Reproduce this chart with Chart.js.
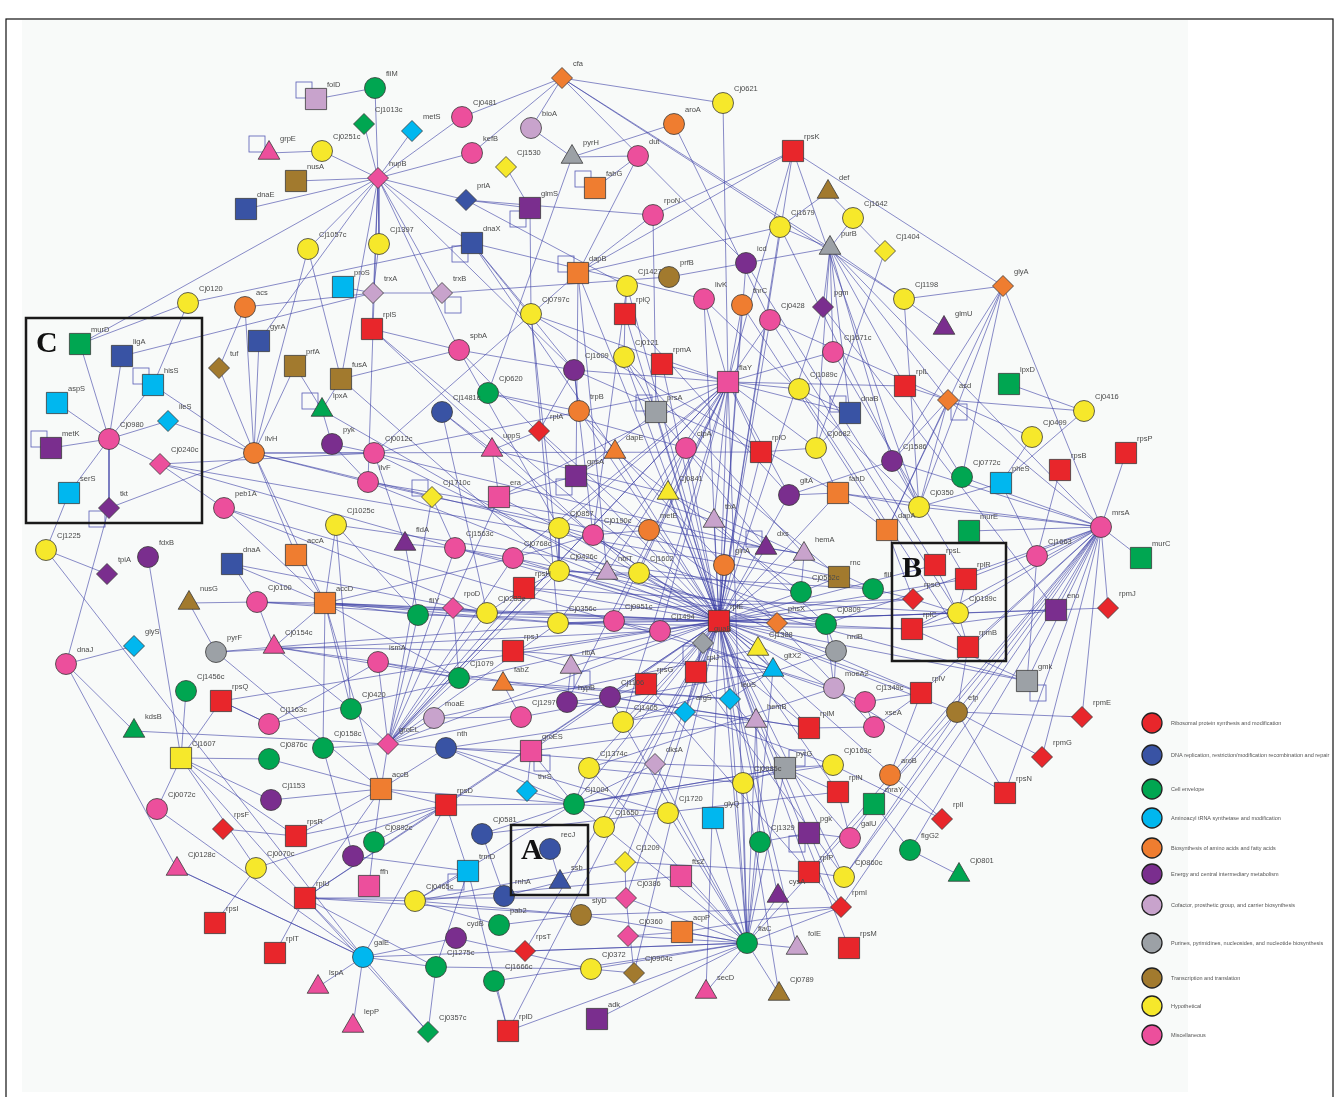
<!DOCTYPE html>
<html>
<head>
<meta charset="utf-8">
<script src="https://cdn.jsdelivr.net/npm/chart.js@4.4.1/dist/chart.umd.min.js"></script>
<style>
  html, body { margin: 0; padding: 0; background: #fff; }
  canvas { display: block; }
</style>
</head>
<body>
<canvas id="net" width="1336" height="1097"></canvas>
<script>
/* =====================
   Interaction network
   ===================== */

// Nodes per functional class: [name, x, y, kind]  (kind: c circle, s square, t triangle, d diamond)
const ribosomal = [
  ['rpsK',793,151,'s'], ['rplS',372,329,'s'], ['rplA',539,431,'d'], ['rplQ',625,314,'s'],
  ['rpmA',662,364,'s'], ['rplL',905,386,'s'], ['rplO',761,452,'s'], ['rpsB',1060,470,'s'],
  ['rpsP',1126,453,'s'], ['rpsL',935,565,'s'], ['rplR',966,579,'s'], ['rpsO',913,599,'d'],
  ['rplC',912,629,'s'], ['rpmB',968,647,'s'], ['rpmJ',1108,608,'d'], ['rplV',921,693,'s'],
  ['rpmE',1082,717,'d'], ['rpmG',1042,757,'d'], ['rpsN',1005,793,'s'], ['rplI',942,819,'d'],
  ['rplE',719,621,'s'], ['rpsH',524,588,'s'], ['rpsJ',513,651,'s'], ['rpsG',646,684,'s'],
  ['rplJ',696,672,'s'], ['rplM',809,728,'s'], ['rplN',838,792,'s'], ['rplP',809,872,'s'],
  ['rpmI',841,907,'d'], ['rpsM',849,948,'s'], ['rpsQ',221,701,'s'], ['rpsD',446,805,'s'],
  ['rpsF',223,829,'d'], ['rpsR',296,836,'s'], ['rplU',305,898,'s'], ['rpsI',215,923,'s'],
  ['rplT',275,953,'s'], ['rpsT',525,951,'d'], ['rplD',508,1031,'s']
];
const dnaRepair = [
  ['dnaE',246,209,'s'], ['priA',466,200,'d'], ['dnaX',472,243,'s'], ['ligA',122,356,'s'],
  ['gyrA',259,341,'s'], ['Cj1481c',442,412,'c'], ['dnaB',850,413,'s'], ['dnaA',232,564,'s'],
  ['nth',446,748,'c'], ['Cj0581',482,834,'c'], ['recJ',550,849,'c'], ['ssb',560,882,'t'],
  ['rnhA',504,896,'c']
];
const envelope = [
  ['fliM',375,88,'c'], ['Cj1013c',364,124,'d'], ['murD',80,344,'s'], ['lpxA',322,410,'t'],
  ['Cj0620',488,393,'c'], ['lpxD',1009,384,'s'], ['Cj0772c',962,477,'c'], ['murE',969,531,'s'],
  ['murC',1141,558,'s'], ['fliY',418,615,'c'], ['Cj0552c',801,592,'c'], ['fliI',873,589,'c'],
  ['Cj0809',826,624,'c'], ['Cj1079',459,678,'c'], ['Cj1456c',186,691,'c'], ['Cj0420',351,709,'c'],
  ['kdsB',134,731,'t'], ['Cj0876c',269,759,'c'], ['Cj0158c',323,748,'c'], ['Cj0892c',374,842,'c'],
  ['Cj1004',574,804,'c'], ['Cj1329',760,842,'c'], ['mraY',874,804,'s'], ['flgG2',910,850,'c'],
  ['Cj0801',959,875,'t'], ['pab2',499,925,'c'], ['Cj1275c',436,967,'c'], ['Cj1666c',494,981,'c'],
  ['Cj0357c',428,1032,'d'], ['flaC',747,943,'c']
];
const trnaSynth = [
  ['metS',412,131,'d'], ['proS',343,287,'s'], ['hisS',153,385,'s'], ['aspS',57,403,'s'],
  ['ileS',168,421,'d'], ['serS',69,493,'s'], ['glyS',134,646,'d'], ['pheS',1001,483,'s'],
  ['gltX2',773,670,'t'], ['argS',685,712,'d'], ['leuS',730,699,'d'], ['thrS',527,791,'d'],
  ['glyQ',713,818,'s'], ['trmD',468,871,'s'], ['galE',363,957,'c']
];
const aminoFatty = [
  ['cfa',562,78,'d'], ['aroA',674,124,'c'], ['fabG',595,188,'s'], ['dapB',578,273,'s'],
  ['thrC',742,305,'c'], ['glyA',1003,286,'d'], ['acs',245,307,'c'], ['asd',948,400,'d'],
  ['trpB',579,411,'c'], ['ilvH',254,453,'c'], ['dapE',615,452,'t'], ['fabD',838,493,'s'],
  ['dapA',887,530,'s'], ['metE',649,530,'c'], ['glnA',724,565,'c'], ['accA',296,555,'s'],
  ['accD',325,603,'s'], ['phsX',777,623,'d'], ['fabZ',503,684,'t'], ['aroB',890,775,'c'],
  ['accB',381,789,'s'], ['acpP',682,932,'s']
];
const energy = [
  ['glmS',530,208,'s'], ['icd',746,263,'c'], ['pgm',823,307,'d'], ['glmU',944,328,'t'],
  ['Cj1609',574,370,'c'], ['pyk',332,444,'c'], ['metK',51,448,'s'], ['gpsA',576,476,'s'],
  ['Cj1586',892,461,'c'], ['gltA',789,495,'c'], ['tkt',109,508,'d'], ['fldA',405,544,'t'],
  ['dxs',766,548,'t'], ['fdxB',148,557,'c'], ['tpiA',107,574,'d'], ['eno',1056,610,'s'],
  ['Cj1106',610,697,'c'], ['hypB',567,702,'c'], ['Cj1153',271,800,'c'], ['pgk',809,833,'s'],
  ['cysA',778,896,'t'], ['cydB',456,938,'c'], ['_e1',353,856,'c'], ['adk',597,1019,'s']
];
const cofactor = [
  ['folD',316,99,'s'], ['bioA',531,128,'c'], ['trxA',373,293,'d'], ['trxB',442,293,'d'],
  ['tbA',714,521,'t'], ['hemA',804,554,'t'], ['nblT',607,573,'t'], ['ribA',571,667,'t'],
  ['moaE',434,718,'c'], ['moeA2',834,688,'c'], ['hemB',756,721,'t'], ['dksA',655,764,'d'],
  ['folE',797,948,'t']
];
const nucleotide = [
  ['pyrH',572,157,'t'], ['purB',830,248,'t'], ['prsA',656,412,'s'], ['pyrF',216,652,'c'],
  ['guaB',703,643,'d'], ['nrdB',836,651,'c'], ['gmk',1027,681,'s'], ['pyrG',785,768,'s']
];
const transcription = [
  ['nusA',296,181,'s'], ['def',828,192,'t'], ['prfB',669,277,'c'], ['tuf',219,368,'d'],
  ['prfA',295,366,'s'], ['fusA',341,379,'s'], ['nusG',189,603,'t'], ['rnc',839,577,'s'],
  ['efp',957,712,'c'], ['slyD',581,915,'c'], ['Cj0904c',634,973,'d'], ['Cj0789',779,994,'t']
];
const hypothetical = [
  ['Cj0621',723,103,'c'], ['Cj0251c',322,151,'c'], ['Cj1530',506,167,'d'], ['Cj1642',853,218,'c'],
  ['Cj1679',780,227,'c'], ['Cj1057c',308,249,'c'], ['Cj1397',379,244,'c'], ['Cj1404',885,251,'d'],
  ['Cj1427',627,286,'c'], ['Cj1198',904,299,'c'], ['Cj0120',188,303,'c'], ['Cj0797c',531,314,'c'],
  ['Cj0121',624,357,'c'], ['Cj1089c',799,389,'c'], ['Cj0416',1084,411,'c'], ['Cj0499',1032,437,'c'],
  ['Cj0682',816,448,'c'], ['Cj0841',668,493,'t'], ['Cj1710c',432,497,'d'], ['Cj0350',919,507,'c'],
  ['Cj1025c',336,525,'c'], ['Cj0857',559,528,'c'], ['Cj1225',46,550,'c'], ['Cj0426c',559,571,'c'],
  ['Cj1602',639,573,'c'], ['Cj0233c',487,613,'c'], ['Cj0356c',558,623,'c'], ['Cj0189c',958,613,'c'],
  ['Cj1388',758,649,'t'], ['Cj1405',623,722,'c'], ['Cj1607',181,758,'s'], ['Cj1374c',589,768,'c'],
  ['Cj0163c',833,765,'c'], ['Cj0985c',743,783,'c'], ['Cj1720',668,813,'c'], ['Cj1650',604,827,'c'],
  ['Cj1209',625,862,'d'], ['Cj0860c',844,877,'c'], ['Cj0070c',256,868,'c'], ['Cj0465c',415,901,'c'],
  ['Cj0372',591,969,'c']
];
const miscellaneous = [
  ['Cj0481',462,117,'c'], ['kefB',472,153,'c'], ['grpE',269,153,'t'], ['hupB',378,178,'d'],
  ['dut',638,156,'c'], ['rpoN',653,215,'c'], ['livK',704,299,'c'], ['Cj0428',770,320,'c'],
  ['spbA',459,350,'c'], ['Cj1671c',833,352,'c'], ['flaY',728,382,'s'], ['Cj0980',109,439,'c'],
  ['clpA',686,448,'c'], ['uppS',492,450,'t'], ['Cj0012c',374,453,'c'], ['Cj0240c',160,464,'d'],
  ['ilvF',368,482,'c'], ['era',499,497,'s'], ['peb1A',224,508,'c'], ['mrsA',1101,527,'c'],
  ['Cj0190c',593,535,'c'], ['Cj1563c',455,548,'c'], ['Cj0768c',513,558,'c'], ['Cj1663',1037,556,'c'],
  ['Cj0100',257,602,'c'], ['rpoD',453,608,'d'], ['Cj0951c',614,621,'c'], ['Cj1494',660,631,'c'],
  ['Cj0154c',274,647,'t'], ['ismA',378,662,'c'], ['dnaJ',66,664,'c'], ['Cj1349c',865,702,'c'],
  ['Cj1297',521,717,'c'], ['Cj1163c',269,724,'c'], ['xseA',874,727,'c'], ['groEL',388,744,'d'],
  ['groES',531,751,'s'], ['Cj0072c',157,809,'c'], ['galU',850,838,'c'], ['Cj0128c',177,869,'t'],
  ['ffh',369,886,'s'], ['ftsZ',681,876,'s'], ['Cj0386',626,898,'d'], ['Cj0360',628,936,'d'],
  ['lspA',318,987,'t'], ['secD',706,992,'t'], ['lepP',353,1026,'t']
];

const classLists = [ribosomal, dnaRepair, envelope, trnaSynth, aminoFatty, energy,
  cofactor, nucleotide, transcription, hypothetical, miscellaneous];

const classNames = [
  'Ribosomal protein synthesis and modification',
  'DNA replication, restriction/modification recombination and repair',
  'Cell envelope',
  'Aminoacyl tRNA synthetase and modification',
  'Biosynthesis of amino acids and fatty acids',
  'Energy and central intermediary metabolism',
  'Cofactor, prosthetic group, and carrier biosynthesis',
  'Purines, pyrimidines, nucleosides, and nucleotide biosynthesis',
  'Transcription and translation',
  'Hypothetical',
  'Miscellaneous'
];

const classColors = ['#e8262b', '#3953a4', '#00a651', '#00b7ef', '#ef7d30', '#7a2e8e',
  '#c8a3cc', '#9ca1a6', '#a27a2e', '#f6e82b', '#ec4f9c'];

// Self-interactions, drawn as a small loop beside the node
const selfLoops = [['folD','ul'], ['grpE','ul'], ['dnaX','dl'], ['trxB','dr'], ['hisS','ul'],
  ['metK','ul'], ['tkt','dl'], ['lpxA','ul'], ['Cj1710c','ul'], ['fabG','ul'], ['glmS','dl'],
  ['dapB','ul'], ['prsA','ul'], ['gpsA','dl'], ['dnaB','ul'], ['asd','dr'], ['dxs','ul'],
  ['gmk','dr'], ['groES','dr'], ['trmD','dl'], ['pgk','dl'], ['guaB','dl'], ['ribA','dr'],
  ['pyrG','ur']];

const edges = [
  // hupB
  'hupB fliM','hupB Cj1013c','hupB metS','hupB Cj0481','hupB kefB','hupB Cj0251c','hupB nusA',
  'hupB dnaE','hupB murD','hupB priA','hupB gyrA','hupB dnaX','hupB trxB','hupB spbA',
  'hupB Cj1609','hupB fusA','hupB ilvF','hupB Cj1397','hupB Cj1057c','hupB rplS',
  'folD fliM','grpE Cj0251c',
  // cfa / top
  'cfa Cj0481','cfa kefB','cfa bioA','cfa Cj0621','cfa purB','cfa Cj1198','cfa icd',
  'bioA pyrH','pyrH dut','pyrH aroA','pyrH Cj0620','dut dapB','dut fabG','Cj1530 glmS',
  'priA rpoN','priA Cj1427','glmS Cj0797c','priA glmS','dnaX Cj1609','dnaX Cj0797c','dnaX livK',
  'dnaX dapE','Cj0621 flaY','aroA Cj0428','rpsK rpoN','rpsK dapB','rpsK rplE','rpsK glyA',
  'rpsK Cj0350','rpsK flaY','rpoN prsA','rpoN dapB','dapB Cj1679','dapB gpsA','dapB Cj0012c',
  'prfB icd','prfB trxB','icd purB','Cj1679 purB','Cj1679 Cj0350','def Cj1642','def Cj1679',
  'Cj1404 Cj1642','Cj1404 Cj0682','Cj1642 purB',
  // purB / glyA / asd
  'purB rplL','purB pgm','purB Cj1671c','purB asd','purB Cj1586','purB dnaB','purB Cj0682',
  'purB Cj1198','purB mrsA','Cj1198 glyA','Cj1198 glmU','Cj1198 Cj0350','glyA Cj0772c',
  'glyA Cj0350','glyA mrsA','glyA dapA','glyA Cj1586','asd Cj0416','asd Cj0499','asd rplL',
  'asd Cj0428','asd dapA','asd mrsA','asd Cj0350','asd Cj1586','lpxD Cj0416','Cj0416 pheS',
  'Cj0499 pheS','rpsB Cj1663','rpsP mrsA','pheS Cj1663','pheS Cj0350','Cj0772c rplL',
  // mrsA
  'mrsA murC','mrsA murE','mrsA Cj0350','mrsA eno','mrsA rpmJ','mrsA rpmE','mrsA rpmG',
  'mrsA rpsN','mrsA gmk','mrsA rpmB','mrsA rplC','mrsA rplR','mrsA efp','mrsA rpmI',
  'mrsA rplP','mrsA Cj1663','mrsA Cj0189c','mrsA Cj0809','mrsA mraY','mrsA Cj0772c',
  'mrsA Cj1586','mrsA fabD','mrsA Cj0860c','mrsA flgG2','mrsA rplV',
  'Cj0189c rpsL','Cj0189c rplR','Cj0189c rpsO','Cj0189c rplC','Cj0189c rpmB',
  'rpsO fliI','rpsO dapA','rplC eno','efp rpmE','efp rpmG','efp rpsN','efp rpmB','efp flaC',
  'efp Cj0860c','gmk Cj1663','gmk rplC','rplV Cj1349c','rplV aroB','rplV rplE','rplV xseA',
  'mraY flgG2','mraY galU','flgG2 Cj0801','Cj0163c rplI',
  // rplE hub
  'rplE rplO','rplE Cj1494','rplE Cj0951c','rplE Cj0356c','rplE rpsG','rplE rplJ','rplE guaB',
  'rplE Cj1388','rplE gltX2','rplE phsX','rplE Cj0809','rplE rplC','rplE rpsL','rplE flaC',
  'rplE rpmA','rplE rplQ','rplE flaY','rplE hemB','rplE rplM','rplE rplP','rplE rplD',
  'rplE rpsD','rplE rpsJ','rplE rpsH','rplE Cj0857','rplE Cj0190c','rplE leuS','rplE argS',
  'rplE glnA','rplE dxs','rplE rpmI','rplE rplN','rplE Cj1602','rplE metE','rplE dapE',
  'rplE clpA','rplE rplS','rplE Cj1405','rplE accD','rplE groEL','rplE Cj0552c','rplE nrdB',
  'rplE rpsN','rplE hemA','rplE rplR','rplE Cj0841','rplE tbA','rplE rplU',
  'rplE Cj0233c','rplE Cj1563c','rplE fliY','rplE Cj0768c','rplE Cj0426c','rplE livK',
  'rplE thrC','rplE Cj0428','rplE icd','rplE Cj1679','rplE pgm','rplE gltA','rplE fabD',
  'rplE Cj0189c','rplE rpsO','rplE eno','rplE rpmJ','rplE gmk','rplE efp','rplE rplI',
  'rplE Cj0860c','rplE rpsM','rplE folE','rplE Cj0789','rplE cysA','rplE secD','rplE Cj0386',
  'rplE Cj1209','rplE Cj1650','rplE Cj1374c','rplE groES','rplE rpsT','rplE Cj0904c',
  'rplE Cj0012c','rplE ilvF','rplE Cj0100','rplE rpsQ','rplE Cj1163c','rplE ribA',
  'rplE Cj0121','rplE prsA','rplE trpB','rplE Cj1427','rplE dapB','rplE spbA',
  // flaY hub
  'flaY rpmA','flaY livK','flaY thrC','flaY Cj0428','flaY Cj1089c','flaY Cj1671c','flaY rplL',
  'flaY Cj0797c','flaY Cj0356c','flaY Cj0857','flaY Cj0012c','flaY flaC','flaY Cj1609',
  'flaY tbA','flaY rplO','flaY era','flaY groEL','flaY Cj0768c','flaY Cj1602','flaY nblT',
  'flaY Cj0951c','flaY hypB','flaY Cj1405','flaY dnaB','flaY Cj0682','flaY gltA','flaY Cj1494',
  'Cj1089c dnaB','dnaB Cj0682','Cj1586 Cj0350','Cj1586 gltA','Cj0682 rplO','Cj0682 fabD',
  'fabD gltA','fabD dapA','fabD Cj0350','hemA dxs','hemA Cj0552c','dxs tbA','rnc Cj0552c',
  'Cj0809 nrdB','Cj0809 moeA2','Cj1388 gltX2','guaB rplJ','rplJ argS','rpsG Cj1106',
  'Cj1349c xseA','rplM xseA','hemB Cj1329','gltX2 leuS',
  // long crossings through the centre
  'ilvH Cj0190c','ilvH rplO','Cj0240c fliI','Cj1025c Cj0552c','Cj0012c dxs','ilvF hemA',
  'Cj1710c rnc','Cj1563c phsX','Cj0768c Cj0809','peb1A Cj0951c','Cj0100 Cj0356c',
  'accD Cj1494','dnaA Cj0233c','Cj0154c Cj0951c','pyrF Cj1494','ismA rplM','Cj1079 leuS',
  'Cj1297 gltX2','moaE Cj1388','nth argS','groES hemB','Cj1374c moeA2','Cj0581 rplN',
  'gpsA tbA','uppS Cj0841','rplA metE','Cj0620 clpA','trpB glnA','Cj1481c Cj1602',
  'prsA dxs','Cj0121 hemA','rplQ gltA','Cj0797c fabD','Cj1609 rplO','spbA Cj0857',
  'rplS Cj0190c','fusA Cj0426c','lpxA nblT','dapE Cj0552c','metE phsX','Cj0857 Cj0809',
  'Cj0426c fliI','Cj0233c rpsO','rpsH Cj0189c','Cj0356c rplC','rpsJ gltX2','fabZ leuS',
  'hypB hemB','Cj1106 rplM','Cj1405 nrdB','livK Cj0350','thrC dapA','Cj0428 Cj0189c',
  'icd rpsL','Cj1671c rplR','pgm eno','Cj1089c rpmB','clpA rnc','Cj0841 fliI',
  'Cj0190c Cj1388','tbA Cj0809','Cj1602 rplV','nblT gmk','glnA xseA','guaB rplM',
  'Cj0951c moeA2','Cj1494 Cj1349c','argS Cj0163c','leuS galU','rpsG rplP','rplJ Cj0860c',
  // pyrG / bottom right
  'pyrG Cj0985c','pyrG Cj1004','pyrG rplN','pyrG Cj0163c','pyrG flaC','rplN galU',
  'pgk Cj1329','pgk galU','rplP Cj0860c','rplP rpmI','rplP Cj1209','rpmI slyD','rpmI acpP',
  'flaC folE','flaC Cj0789','flaC secD','flaC acpP','flaC Cj0360','flaC rpsT','flaC rplD',
  'flaC adk','flaC slyD','flaC Cj1650','flaC Cj1720','flaC glyQ','flaC Cj1329','flaC ftsZ',
  'flaC Cj1666c','flaC Cj0386','flaC galE','flaC rpmI','flaC Cj0985c','flaC cysA',
  'Cj0360 acpP','Cj0386 Cj1209','Cj0386 Cj0904c','slyD Cj0465c','Cj0372 Cj0904c','Cj0372 cydB',
  'flaC hemB','flaC gltX2','flaC leuS','flaC Cj1374c','flaC dksA','flaC Cj1405','flaC Cj0372',
  // Cj1004 / box A
  'Cj1004 Cj1374c','Cj1004 thrS','Cj1004 rpsD','Cj1004 dksA','Cj1004 Cj0581','Cj1004 Cj1650',
  'Cj1004 groES','Cj1004 nth','Cj1004 accB','Cj1004 Cj0465c','Cj1004 rplE','Cj1004 Cj1720',
  'Cj1374c Cj0985c','dksA pyrG','groES thrS','groES nth','recJ ssb','rnhA ssb','Cj0581 rnhA',
  'trmD rpsD','trmD Cj0465c','trmD Cj1275c','trmD _e1','cydB galE','pab2 slyD','pab2 Cj0465c',
  'Cj1004 Cj0163c','Cj1004 pyrG','Cj0465c Cj1209','Cj0465c ftsZ','nth Cj1720','nth dksA',
  // bottom left
  'rpsD accB','rpsD rplU','rpsD galE','rpsD Cj0892c','galE rplU','galE lspA','galE lepP',
  'galE Cj0357c','galE Cj1275c','galE Cj0128c','galE Cj0072c','Cj0357c Cj1275c','Cj0357c rplU',
  'rplD Cj1666c','rplD trmD','rplU Cj0465c','rplU rplT','rplU Cj1607','rplU Cj1275c',
  'rplU accB','Cj0070c rpsI','Cj0070c rpsD','rpsR rpsF','rpsR Cj1607','rpsR rpsD',
  'Cj0892c ffh','Cj0892c accB','_e1 Cj0158c','rplU Cj0386','rplU slyD','Cj1275c Cj0372',
  'accB Cj0876c','accB Cj1153','accB groEL','accB nth','accB accD','accB rpsR',
  'Cj0876c Cj1607','Cj1153 Cj1607','Cj0072c Cj1607','Cj1607 Cj1456c','Cj1607 Cj0070c',
  'kdsB groEL','dnaJ glyS','dnaJ kdsB','dnaJ tkt','dnaJ Cj0128c','Cj1225 tpiA','Cj1225 galE',
  'fdxB Cj1607','Cj1225 serS','Cj0128c galE','rpsQ Cj1607','rpsQ Cj1163c',
  // groEL / accD
  'groEL Cj0158c','groEL moaE','groEL Cj0420','groEL fliY','groEL ismA','groEL Cj1563c',
  'groEL Cj1079','groEL nth','groEL Cj0356c','groEL Cj0233c','groEL flaY','groEL Cj1297',
  'groEL Cj0768c','groEL rpsH','groEL Cj0426c','groEL era','groEL Cj1710c',
  'Cj0420 Cj0154c','Cj1163c rpsQ','Cj1163c ismA','pyrF nusG','pyrF Cj0154c','pyrF accB',
  'nusG Cj0100','Cj0100 accD','Cj0100 Cj0154c','Cj0100 dnaA',
  'accD accA','accD dnaA','accD Cj1025c','accD Cj0154c','accD peb1A','accD ilvH','accD fliY',
  'accD Cj0158c','accD Cj0420','accD Cj0768c','accA ilvH','peb1A Cj0240c','accD Cj0233c',
  'accD rpoD','accD Cj1079','Cj0154c ismA','Cj0154c Cj1079','Cj0154c rpsJ',
  // box C and left
  'Cj0980 murD','Cj0980 ligA','Cj0980 hisS','Cj0980 aspS','Cj0980 ileS','Cj0980 metK',
  'Cj0980 Cj0240c','Cj0980 serS','Cj0980 tkt','ilvH tkt','ilvH ileS','ilvH Cj0012c',
  'ilvH ilvF','ilvH acs','ilvH gyrA','ilvH tuf','ilvH Cj1057c','Cj0240c Cj1563c',
  'Cj0240c Cj0012c','Cj0120 murD','Cj0120 hisS','Cj0120 dnaX','acs trxA','acs tuf',
  'ligA trxA','Cj1397 trxA','trxA trxB','trxA proS','Cj1057c fusA','prfA ilvH','prfA lpxA',
  'rplS spbA','spbA fusA','spbA Cj1609','lpxA fusA','lpxA pyk','pyk Cj0012c','pyk ilvF',
  'ilvF Cj1710c','Cj1710c Cj1563c','fldA fliY','fldA Cj1563c','fldA Cj0012c',
  'hisS ilvH','peb1A Cj0233c','Cj1025c fliY','Cj1025c Cj0420',
  // middle
  'Cj1481c uppS','Cj1481c Cj0233c','Cj0620 trpB','trpB Cj1609','rplA Cj1609','rplA uppS',
  'gpsA era','gpsA dapE','gpsA prsA','prsA Cj0121','Cj0121 rplQ','rplQ Cj1427','clpA Cj0841',
  'Cj0857 Cj0426c','Cj0190c metE','Cj0190c Cj0768c','Cj0426c nblT','nblT Cj1602',
  'Cj0768c Cj1563c','rpsH Cj0426c','rpsH Cj0233c','Cj0356c Cj0951c','Cj0951c Cj1494',
  'rpsJ ribA','rpoD Cj1079','rpoD Cj0233c','fabZ Cj1297','hypB Cj1106','hypB ribA',
  'Cj1405 Cj1106','moeA2 nrdB','Cj1297 moaE','ismA Cj1079','era Cj0857','uppS era',
  'Cj1609 Cj0190c','Cj0797c Cj0356c','Cj0797c Cj0426c','dapB nblT','Cj1427 Cj0190c'
];

// ---- build datasets ----
const nodeIndex = {};
const nodePoints = [];
classLists.forEach((list, g) => {
  list.forEach(([name, x, y, kind]) => {
    const p = { x, y, name, g, kind };
    nodeIndex[name] = p;
    nodePoints.push(p);
  });
});

const edgePoints = [];
edges.forEach(e => {
  const [a, b] = e.split(' ');
  const na = nodeIndex[a], nb = nodeIndex[b];
  if (!na || !nb) { console.warn('missing node in edge', e); return; }
  edgePoints.push({ x: na.x, y: na.y }, { x: nb.x, y: nb.y }, { x: null, y: null });
});

const styleOf = { c: 'circle', s: 'rect', t: 'triangle', d: 'rectRot' };
const radiusOf = { c: 10.5, s: 15, t: 12.5, d: 10.5 };
const loopOffset = { ul: [-12, -9], ur: [12, -10], dl: [-12, 11], dr: [11, 12] };

const px = (chart, x) => chart.scales.x.getPixelForValue(x);
const py = (chart, y) => chart.scales.y.getPixelForValue(y);

// Background panel, frame, self loops, labels, boxes, legend
const decorPlugin = {
  id: 'decor',
  beforeDraw(chart) {
    const { ctx } = chart;
    ctx.save();
    ctx.fillStyle = '#ffffff';
    ctx.fillRect(0, 0, chart.width, chart.height);
    ctx.fillStyle = '#f8faf9';
    ctx.fillRect(px(chart, 22), py(chart, 20), px(chart, 1188) - px(chart, 22), py(chart, 1092) - py(chart, 20));
    ctx.strokeStyle = '#111';
    ctx.lineWidth = 1.2;
    ctx.strokeRect(px(chart, 6), py(chart, 19), px(chart, 1333) - px(chart, 6), py(chart, 1110) - py(chart, 19));
    ctx.restore();
  },
  beforeDatasetsDraw(chart) {
    const { ctx } = chart;
    ctx.save();
    ctx.strokeStyle = 'rgba(60,64,170,0.85)';
    ctx.lineWidth = 0.8;
    selfLoops.forEach(([name, side]) => {
      const n = nodeIndex[name];
      if (!n) return;
      const [dx, dy] = loopOffset[side];
      const cx = px(chart, n.x) + dx, cy = py(chart, n.y) + dy;
      ctx.strokeRect(cx - 8, cy - 8, 16, 16);
    });
    ctx.restore();
  },
  afterDraw(chart) {
    const { ctx } = chart;
    ctx.save();
    // node labels
    ctx.font = '7.5px Arial, "Liberation Sans", sans-serif';
    ctx.fillStyle = '#4a4a4a';
    ctx.textBaseline = 'middle';
    ctx.textAlign = 'left';
    nodePoints.forEach(n => {
      if (n.name.startsWith('_')) return;
      ctx.fillText(n.name, px(chart, n.x) + 11, py(chart, n.y) - 14);
    });

    // highlighted sub-networks
    const boxes = [['A', 511, 825, 588, 895], ['B', 892, 543, 1006, 661], ['C', 26, 318, 202, 523]];
    ctx.strokeStyle = '#1a1a1a';
    ctx.lineWidth = 2.5;
    ctx.fillStyle = '#111';
    ctx.font = 'bold 30px "Liberation Serif", "Times New Roman", serif';
    ctx.textBaseline = 'alphabetic';
    boxes.forEach(([letter, x0, y0, x1, y1]) => {
      const l = px(chart, x0), t = py(chart, y0);
      ctx.strokeRect(l, t, px(chart, x1) - l, py(chart, y1) - t);
      ctx.fillText(letter, l + 10, t + 34);
    });

    // legend
    const legY = [723, 755, 789, 818, 848, 874, 905, 943, 978, 1006, 1035];
    classNames.forEach((label, i) => {
      const cy = legY[i];
      ctx.beginPath();
      ctx.arc(1152, cy, 10, 0, Math.PI * 2);
      ctx.fillStyle = classColors[i];
      ctx.fill();
      ctx.lineWidth = 1.3;
      ctx.strokeStyle = '#222';
      ctx.stroke();
      ctx.fillStyle = '#555';
      ctx.font = '5.5px Arial, "Liberation Sans", sans-serif';
      ctx.textBaseline = 'middle';
      ctx.fillText(label, 1171, cy);
    });
    ctx.restore();
  }
};

new Chart(document.getElementById('net'), {
  type: 'scatter',
  data: {
    datasets: [
      {
        label: 'genes',
        data: nodePoints,
        order: 0,
        pointStyle: ctx => styleOf[ctx.raw.kind],
        pointRadius: ctx => radiusOf[ctx.raw.kind],
        backgroundColor: ctx => classColors[ctx.raw.g],
        borderColor: '#3a3a3a',
        borderWidth: 0.8,
        showLine: false
      },
      {
        label: 'interactions',
        data: edgePoints,
        order: 1,
        showLine: true,
        spanGaps: false,
        pointRadius: 0,
        borderColor: 'rgba(58,62,165,0.75)',
        borderWidth: 0.8
      }
    ]
  },
  options: {
    responsive: false,
    animation: false,
    events: [],
    layout: { padding: 0, autoPadding: false },
    plugins: { legend: { display: false }, tooltip: { enabled: false } },
    scales: {
      x: { type: 'linear', min: 0, max: 1336, display: false },
      y: { type: 'linear', min: 0, max: 1097, reverse: true, display: false }
    }
  },
  plugins: [decorPlugin]
});
</script>
</body>
</html>
